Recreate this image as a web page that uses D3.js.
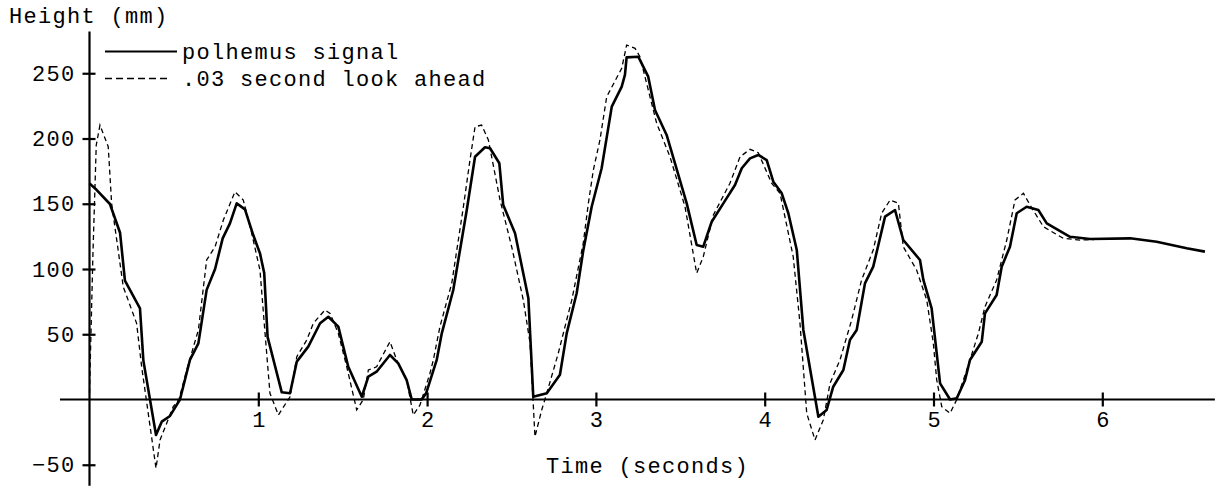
<!DOCTYPE html>
<html>
<head>
<meta charset="utf-8">
<script src="https://cdn.jsdelivr.net/npm/d3@7"></script>
<style>
  body { margin: 0; background: #fff; }
  svg text { font-family: "Liberation Mono", "DejaVu Sans Mono", monospace; fill: #000; }
</style>
</head>
<body>
<div id="viz"></div>
<script>
// tick values and labels
const xTicks = [1, 2, 3, 4, 5, 6]
const yTicks = [-50, 50, 100, 150, 200, 250]
const yTitle = "Height (mm)"
const xTitle = "Time (seconds)"
const seriesNames = ["polhemus signal", ".03 second look ahead"]

// [time (s), height (mm)]
const polhemus = [
  [0.000, 165.6], [0.043, 160.5], [0.121, 149.8], [0.181, 127.8], [0.210, 91],
  [0.299, 69.9], [0.319, 30], [0.394, -27.2], [0.428, -17], [0.477, -12.6],
  [0.536, 0], [0.595, 30.3], [0.645, 43], [0.694, 84], [0.744, 100],
  [0.789, 123.5], [0.832, 135], [0.872, 150.3], [0.921, 145.7], [0.970, 126],
  [1.010, 112], [1.035, 97], [1.055, 48], [1.139, 5.5], [1.188, 4.8],
  [1.228, 29], [1.296, 40.5], [1.366, 58.4], [1.415, 63.4], [1.474, 55.8],
  [1.533, 25.1], [1.613, 2.1], [1.652, 17.5], [1.701, 21.3], [1.780, 34.1],
  [1.829, 27.7], [1.879, 14.9], [1.909, 0], [1.968, 0], [1.995, 5],
  [2.057, 30.3], [2.087, 50.7], [2.155, 83.9], [2.235, 145.2], [2.284, 186],
  [2.343, 193.3], [2.373, 192.5], [2.428, 181], [2.451, 149], [2.521, 127.4],
  [2.600, 77.5], [2.629, 2.1], [2.709, 4.8], [2.787, 19], [2.827, 50.7],
  [2.886, 81.4], [2.925, 114], [2.975, 147.7], [3.034, 177.2], [3.094, 224.4],
  [3.153, 239.7], [3.172, 248.7], [3.182, 262.2], [3.251, 262.7], [3.310, 247.4],
  [3.350, 221.8], [3.419, 202.7], [3.538, 150.3], [3.597, 118.4], [3.636, 117.1],
  [3.686, 136.2], [3.755, 150.3], [3.824, 164.4], [3.864, 177.2], [3.913, 184.8],
  [3.962, 187.4], [4.012, 183.5], [4.051, 166.9], [4.101, 158], [4.140, 142.7],
  [4.190, 114.6], [4.229, 53.3], [4.318, -13.2], [4.367, -8], [4.406, 9.8],
  [4.466, 22.6], [4.505, 45.6], [4.545, 53.3], [4.594, 89], [4.643, 101.8],
  [4.713, 140.1], [4.772, 145.2], [4.821, 122.2], [4.920, 106.9], [4.940, 91.6],
  [4.989, 69.9], [5.039, 12.4], [5.098, 0], [5.138, 0.9], [5.187, 15],
  [5.216, 30.3], [5.286, 44.3], [5.305, 66], [5.374, 80.1], [5.404, 101.8],
  [5.453, 117.1], [5.493, 142.7], [5.552, 147.7], [5.621, 145.2], [5.671, 135],
  [5.809, 124.7], [5.928, 123], [6.165, 123.5], [6.322, 120.9], [6.500, 115.9],
  [6.608, 113.3]
]

const lookAhead = [
  [0.000, 5], [0.020, 110], [0.040, 195], [0.062, 210.3], [0.111, 193.7],
  [0.131, 150.3], [0.200, 86.4], [0.279, 58.4], [0.309, 25.1], [0.394, -52.7],
  [0.418, -31], [0.496, -5.5], [0.530, 0], [0.576, 22.6], [0.645, 53.3],
  [0.694, 106.9], [0.744, 117.1], [0.793, 137.5], [0.862, 159.2], [0.911, 152.9],
  [0.961, 127.4], [1.010, 99], [1.040, 50.7], [1.069, 4.8], [1.119, -11.9],
  [1.188, 2.1], [1.228, 32.8], [1.287, 45.6], [1.326, 58.4], [1.395, 68.6],
  [1.425, 66], [1.474, 50.7], [1.524, 25.1], [1.583, -8], [1.622, 0],
  [1.652, 22.6], [1.701, 25.1], [1.780, 44.3], [1.820, 30.3], [1.879, 14.9],
  [1.918, -11.9], [1.958, -4.2], [2.017, 20.1], [2.037, 30.3], [2.076, 55.8],
  [2.146, 89], [2.215, 147.7], [2.254, 183.5], [2.284, 209], [2.323, 210.3],
  [2.363, 198.9], [2.432, 152.9], [2.501, 117.1], [2.570, 76.2], [2.610, 43.1],
  [2.639, -28.5], [2.679, -8], [2.709, 4.8], [2.777, 35.4], [2.857, 76.2],
  [2.925, 119.7], [2.955, 150], [2.985, 175.9], [3.024, 198.9], [3.064, 232],
  [3.153, 253.8], [3.182, 271.6], [3.232, 269.1], [3.261, 262.7], [3.360, 211.6],
  [3.439, 186], [3.528, 147.7], [3.597, 96.7], [3.636, 109.4], [3.696, 141.4],
  [3.794, 165.7], [3.854, 186], [3.913, 191.7], [3.962, 189.1], [4.041, 165.7],
  [4.091, 158], [4.169, 109.4], [4.209, 58.4], [4.249, -10.6], [4.298, -31],
  [4.347, -15.7], [4.387, 12.4], [4.446, 30.3], [4.515, 60.9], [4.574, 91.6],
  [4.643, 114.6], [4.693, 142.7], [4.743, 152.9], [4.792, 150.3], [4.821, 117.1],
  [4.900, 99.2], [4.960, 76.2], [4.999, 43.1], [5.019, 15], [5.049, -5.5],
  [5.098, -10.6], [5.138, 0], [5.197, 22.6], [5.266, 50.7], [5.305, 71.1],
  [5.374, 91.6], [5.434, 122.2], [5.483, 152.9], [5.533, 158], [5.572, 149],
  [5.651, 132.4], [5.769, 123.5], [5.868, 122.2], [5.950, 122.5]
]

const width = 1228
const height = 489
const fontSize = 22
const spacing = 1.3

const x = d3.scaleLinear().domain([0, 6]).range([89.5, 1102.3])
const y = d3.scaleLinear().domain([-50, 250]).range([464.75, 73.25])

const svg = d3.select("#viz").append("svg")
    .attr("width", width)
    .attr("height", height)

// axis lines run a bit past the tick range
svg.append("line")
    .attr("x1", x(-0.175)).attr("x2", x(6.667))
    .attr("y1", y(0)).attr("y2", y(0))
    .attr("stroke", "#000").attr("stroke-width", 2)
svg.append("line")
    .attr("x1", x(0)).attr("x2", x(0))
    .attr("y1", y(282)).attr("y2", y(-66))
    .attr("stroke", "#000").attr("stroke-width", 2.2)

// x axis ticks cross the line
const xAxis = svg.append("g")
    .attr("transform", "translate(0," + y(0) + ")")
    .call(d3.axisBottom(x).tickValues(xTicks).tickSize(7).tickPadding(5).tickFormat(d3.format("d")))
xAxis.select(".domain").remove()
xAxis.attr("font-family", null).attr("font-size", fontSize)
xAxis.selectAll(".tick line").attr("y1", -7).attr("stroke-width", 2.2)

const yAxis = svg.append("g")
    .attr("transform", "translate(" + x(0) + ",0)")
    .call(d3.axisLeft(y).tickValues(yTicks).tickSize(7).tickPadding(7))
yAxis.select(".domain").remove()
yAxis.attr("font-family", null).attr("font-size", fontSize)
yAxis.selectAll(".tick line").attr("x1", 6).attr("stroke-width", 2.2)
yAxis.selectAll(".tick text").style("letter-spacing", spacing + "px")

// the two curves
const line = d3.line()
    .x(function(d) { return x(d[0]) })
    .y(function(d) { return y(d[1]) })

svg.append("path")
    .datum(lookAhead)
    .attr("d", line)
    .attr("fill", "none")
    .attr("stroke", "#000")
    .attr("stroke-width", 1.3)
    .attr("stroke-dasharray", "5,3.5")

svg.append("path")
    .datum(polhemus)
    .attr("d", line)
    .attr("fill", "none")
    .attr("stroke", "#000")
    .attr("stroke-width", 2.6)
    .attr("stroke-linejoin", "round")

// legend
const legend = svg.append("g")
legend.append("line")
    .attr("x1", 105).attr("x2", 177).attr("y1", 51.5).attr("y2", 51.5)
    .attr("stroke", "#000").attr("stroke-width", 2.2)
legend.append("line")
    .attr("x1", 105).attr("x2", 171).attr("y1", 78.5).attr("y2", 78.5)
    .attr("stroke", "#000").attr("stroke-width", 1.4).attr("stroke-dasharray", "7,4")
legend.selectAll("text")
    .data(seriesNames)
    .enter().append("text")
    .attr("x", 182)
    .attr("y", function(d, i) { return [59, 86][i] })
    .attr("font-size", fontSize)
    .style("letter-spacing", spacing + "px")
    .text(function(d) { return d })

// titles
svg.append("text")
    .attr("x", 9).attr("y", 22.5)
    .attr("font-size", fontSize)
    .style("letter-spacing", spacing + "px")
    .text(yTitle)

svg.append("text")
    .attr("x", 546).attr("y", 473)
    .attr("font-size", fontSize)
    .style("letter-spacing", spacing + "px")
    .text(xTitle)
</script>
</body>
</html>
